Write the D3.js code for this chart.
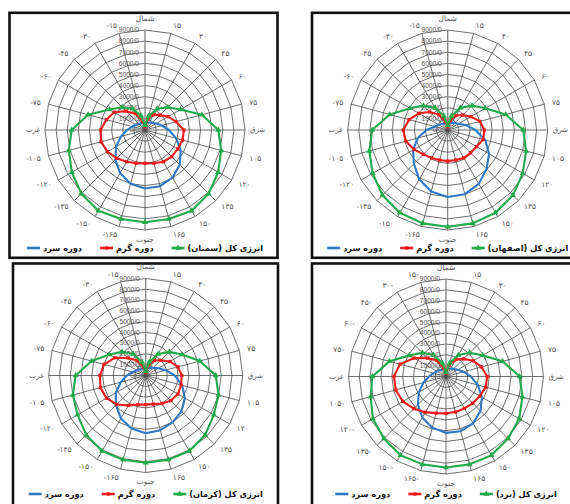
<!DOCTYPE html>
<html><head><meta charset="utf-8">
<script src="https://cdn.jsdelivr.net/npm/d3@7"></script>
<style>body{margin:0;background:#fff}svg{display:block}</style>
</head><body>
<svg id="c" width="570" height="504"></svg>
<script>
// ---- data ----
const angles = [0,15,30,45,60,75,90,105,120,135,150,165,180,195,210,225,240,255,270,285,300,315,330,345];
const angleLabelsA = ["شمال","۱۵","۳۰","۴۵","۶۰","۷۵","شرق","۱۰۵","۱۲۰","۱۳۵","۱۵۰","۱۶۵","جنوب","-۱۶۵","-۱۵۰","-۱۳۵","-۱۲۰","-۱۰۵","غرب","-۷۵","-۶۰","-۴۵","-۳۰","-۱۵"];
const angleLabelsB = ["شمال","۱۵","۳۰","۴۵","۶۰","۷۵","شرق","۱۰۵","۱۲۰","۱۳۵","۱۵۰","۱۶۵","جنوب","۱۶۵-","۱۵۰-","۱۳۵-","۱۲۰-","۱۰۵-","غرب","۷۵-","۶۰-","۴۵-","۳۰-","۱۵-"];
const ringTicks = [0,1000,2000,3000,4000,5000,6000,7000,8000,9000];
const ringLabels = ["0/0","1000/0","2000/0","3000/0","4000/0","5000/0","6000/0","7000/0","8000/0","9000/0"];
const cityNames = ["سمنان","اصفهان","کرمان","یزد"];
const seriesNames = ["دوره سرد","دوره گرم","انرژی کل"];

const semnanTotal = [400,1300,2200,2900,3700,5300,6600,7100,7600,8100,8400,8300,8300,8300,8400,8100,7600,7100,6600,5300,3700,2900,2200,1300];
const semnanWarm  = [300,1000,1600,1900,2400,2900,3500,3500,3400,3400,3300,3100,3000,3100,3300,3600,3900,4100,4000,3600,3200,2400,1700,800];
const semnanCold  = [660,700,780,920,1160,1560,2160,2910,3710,4420,4950,5240,5260,5000,4480,3780,3000,2230,1620,1200,940,790,700,670];

const isfahanTotal = [400,1300,2300,3100,3900,5400,6800,7300,7800,8300,8600,8700,8700,8700,8600,8300,7800,7300,6800,5400,3900,3100,2300,1300];
const isfahanWarm  = [300,900,1500,1900,2400,3000,3300,3300,3000,2900,2900,2800,2800,2800,2900,3100,3500,3900,4000,3600,3000,2300,1600,800];
const isfahanCold  = [620,650,730,870,1120,1700,2500,3500,4300,4950,5600,5980,6030,5730,5130,4300,3600,2800,1900,1200,910,750,670,630];

const kermanTotal = [400,1300,2300,3100,3900,5200,6500,7000,7300,7800,8100,8100,8100,8100,8100,7800,7300,7000,6500,5200,3900,3100,2300,1300];
const kermanWarm  = [300,1000,1600,2000,2600,3100,3350,3400,3450,3300,3000,2750,2700,2800,3200,3800,4200,4350,4250,4000,3300,2300,1600,800];
const kermanCold  = [650,700,800,1000,1350,1900,2700,3500,4200,4700,5000,5250,5350,5100,4600,3900,3200,2400,1750,1250,950,800,700,650];

const yazdTotal = [400,1300,2300,3100,3900,5400,6800,7300,7800,8100,8400,8400,8400,8400,8400,8100,7800,7200,6800,5400,3900,3100,2300,1300];
const yazdWarm  = [300,1100,1800,2300,2900,3400,3800,3800,3600,3500,3400,3400,3400,3500,3800,4200,4600,4800,4800,4400,3400,2400,1700,800];
const yazdCold  = [700,740,830,990,1260,1690,2300,3050,3830,4500,4990,5230,5200,4900,4370,3670,2890,2150,1580,1190,950,810,730,690];

// ---- layout / style ----
const colors = {cold:"#2f78c4", warm:"#ee1c1c", total:"#22a94a"};
const panels = [
  {city:cityNames[0], total:semnanTotal, warm:semnanWarm, cold:semnanCold, cx:145, cy:130, R:100, legendY:248, box:[9.5,12.8,268,245], labels:angleLabelsA},
  {city:cityNames[1], total:isfahanTotal, warm:isfahanWarm, cold:isfahanCold, cx:447.7, cy:130, R:100, legendY:248, box:[312,12.8,300,245], labels:angleLabelsA},
  {city:cityNames[2], total:kermanTotal, warm:kermanWarm, cold:kermanCold, cx:145.7, cy:375.5, R:97, legendY:494, box:[13,263.5,265,300], labels:angleLabelsA},
  {city:cityNames[3], total:yazdTotal, warm:yazdWarm, cold:yazdCold, cx:446, cy:376.5, R:97.5, legendY:494, box:[312,263.5,300,300], labels:angleLabelsB}
];

const svg = d3.select("#c");
const toRad = d => d*Math.PI/180;

panels.forEach(p => {
  const g = svg.append("g");
  g.append("rect").attr("x",p.box[0]).attr("y",p.box[1]).attr("width",p.box[2]).attr("height",p.box[3])
    .attr("fill","#fff").attr("stroke","#111").attr("stroke-width",2.6);

  const r = d3.scaleLinear().domain([0,9000]).range([0,p.R]);
  const a = d3.scalePoint().domain(angles).range([0,360 - 15]);
  const c = g.append("g").attr("transform",`translate(${p.cx},${p.cy})`);

  // rings
  const ringLine = d3.lineRadial().angle(d=>toRad(a(d))).curve(d3.curveLinearClosed);
  ringTicks.filter(v=>v>0).forEach(v=>{
    c.append("path").attr("d", ringLine.radius(()=>r(v))(angles))
      .attr("fill","none").attr("stroke","#4a4a4a").attr("stroke-width",0.8);
  });
  // spokes
  angles.forEach(ang=>{
    const t = toRad(a(ang));
    c.append("line").attr("x1",0).attr("y1",0)
      .attr("x2", r(9000)*Math.sin(t)).attr("y2", -r(9000)*Math.cos(t))
      .attr("stroke", ang===0 ? "#888" : "#4a4a4a").attr("stroke-width", ang===0?1.4:0.8);
  });

  // ring labels
  ringTicks.forEach((v,i)=>{
    c.append("text").attr("x",-6).attr("y",-r(v)).attr("dy","0.35em")
      .attr("text-anchor","end").attr("font-family","Liberation Sans, Arial, sans-serif")
      .attr("font-size",6.6).attr("fill","#555").text(ringLabels[i]);
  });

  // angle labels
  angles.forEach((ang,i)=>{
    const t = toRad(a(ang));
    let rr = p.R + 8, anchor = "middle";
    if (ang>0 && ang<180) anchor = "start";
    else if (ang>180) anchor = "end";
    if (ang===0) rr = p.R + 12;
    if (ang===180) rr = p.R + 9;
    if (ang===90 || ang===270) rr = p.R + 5;
    c.append("text").attr("x", rr*Math.sin(t)).attr("y", -rr*Math.cos(t)).attr("dy","0.35em")
      .attr("text-anchor",anchor).attr("font-family","DejaVu Sans, sans-serif")
      .attr("font-size",(ang===90||ang===270)?7:7.5).attr("fill","#555").text(p.labels[i]);
  });

  // series
  const line = d3.lineRadial().angle((d,i)=>toRad(a(angles[i]))).radius(d=>r(d)).curve(d3.curveLinearClosed);
  const series = [
    {key:"cold", vals:p.cold, marker:null},
    {key:"warm", vals:p.warm, marker:d3.symbolSquare, size:11},
    {key:"total", vals:p.total, marker:d3.symbolTriangle, size:16}
  ];
  series.forEach(s=>{
    c.append("path").attr("d", line(s.vals)).attr("fill","none")
      .attr("stroke", colors[s.key]).attr("stroke-width",2.1).attr("stroke-linejoin","round");
    if (s.marker){
      const sym = d3.symbol().type(s.marker).size(s.size);
      s.vals.forEach((v,i)=>{
        const t = toRad(a(angles[i]));
        c.append("path").attr("d", sym())
          .attr("transform",`translate(${r(v)*Math.sin(t)},${-r(v)*Math.cos(t)})`)
          .attr("fill", colors[s.key]);
      });
    }
  });

  // legend
  const lg = g.append("g");
  const items = [
    {key:"cold", text:seriesNames[0], marker:null},
    {key:"warm", text:seriesNames[1], marker:d3.symbolSquare, size:11},
    {key:"total", text:`${seriesNames[2]} (${p.city})\u200F`, marker:d3.symbolTriangle, size:16}
  ];
  let x = 0;
  const symW = 13, gap1 = 3, gap2 = 18;
  items.forEach((it,k)=>{
    lg.append("line").attr("x1",x).attr("x2",x+symW).attr("y1",0).attr("y2",0)
      .attr("stroke",colors[it.key]).attr("stroke-width",2.6);
    if (it.marker){
      lg.append("path").attr("d", d3.symbol().type(it.marker).size(it.size)())
        .attr("transform",`translate(${x+symW/2},0)`).attr("fill",colors[it.key]);
    }
    x += symW + gap1;
    const tx = lg.append("text").attr("x",x).attr("y",0).attr("dy","0.35em")
      .attr("font-family","DejaVu Sans, sans-serif").attr("font-weight","bold")
      .attr("font-size",8.2).attr("fill","#111").text(it.text);
    x += tx.node().getComputedTextLength();
    if (k<2) x += gap2;
  });
  lg.attr("transform",`translate(${p.cx - x/2},${p.legendY})`);
});
</script>
</body></html>
